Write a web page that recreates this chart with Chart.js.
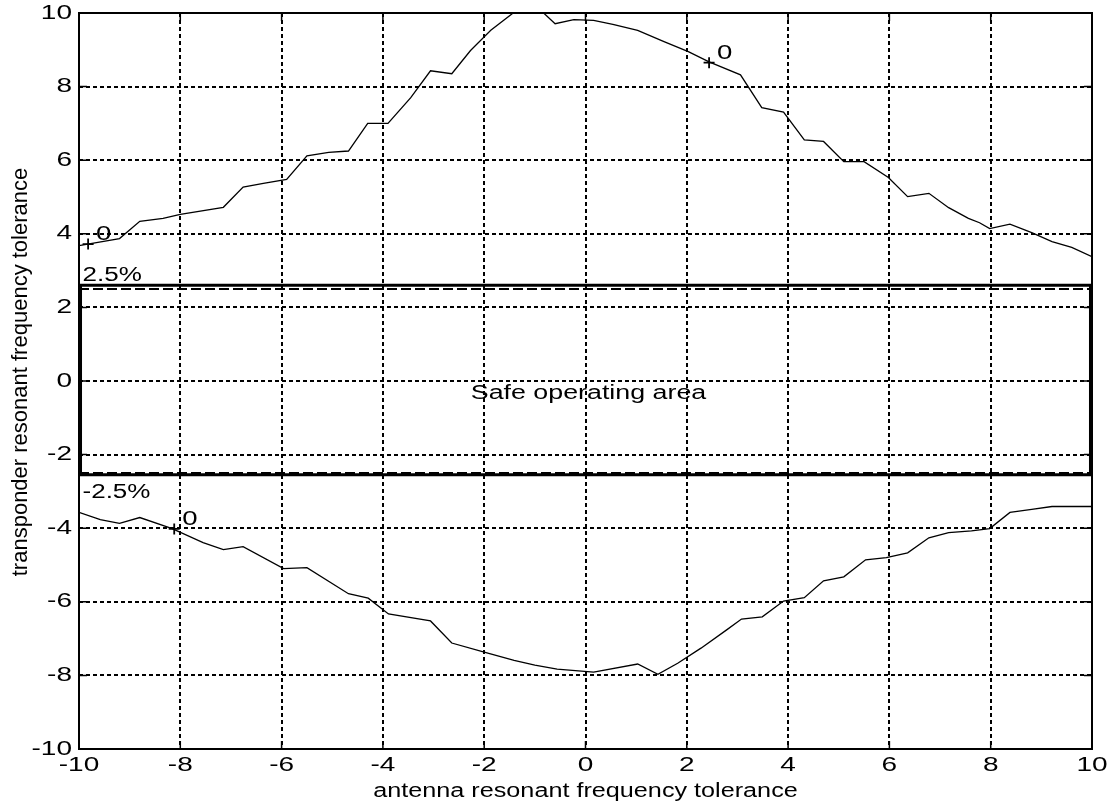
<!DOCTYPE html>
<html>
<head>
<meta charset="utf-8">
<title>Frequency tolerance</title>
<script src="https://cdn.jsdelivr.net/npm/chart.js@4/dist/chart.umd.min.js"></script>
<style>
  html, body { margin: 0; padding: 0; background: #ffffff; }
  canvas { display: block; }
</style>
</head>
<body>
<canvas id="chart" width="1113" height="809"></canvas>
<script>
// Axis ticks shared by both axes
const tickValues = [-10, -8, -6, -4, -2, 0, 2, 4, 6, 8, 10];

// Upper zero-contour
const upperX = [-10, -9.2, -8.8, -8.34, -8.0, -7.15, -6.76, -6.36, -5.9, -5.5, -5.07, -4.68, -4.3, -3.9, -3.45, -3.06,
  -2.64, -2.27, -1.87, -1.1, -0.6, -0.23, 0.16, 0.54, 1.03, 1.55, 2.03, 2.44, 3.06, 3.48, 3.91, 4.32, 4.7, 5.1, 5.5,
  5.98, 6.36, 6.78, 7.17, 7.56, 7.78, 7.98, 8.38, 8.81, 9.21, 9.6, 10.0];
const upperY = [3.68, 3.87, 4.34, 4.42, 4.53, 4.72, 5.27, 5.37, 5.48, 6.12, 6.21, 6.25, 7.0, 7.0, 7.7, 8.43,
  8.35, 8.98, 9.53, 10.35, 9.71, 9.82, 9.8, 9.69, 9.53, 9.22, 8.95, 8.67, 8.32, 7.43, 7.31, 6.55, 6.51, 5.96, 5.96,
  5.53, 5.01, 5.1, 4.71, 4.42, 4.3, 4.14, 4.26, 4.03, 3.79, 3.63, 3.38];

// Lower zero-contour
const lowerX = [-10, -9.58, -9.2, -8.8, -8.16, -7.55, -7.15, -6.76, -5.96, -5.5, -4.68, -4.29, -3.89, -3.06, -2.64,
  -2.0, -1.41, -1.0, -0.56, 0.16, 1.03, 1.43, 1.82, 2.28, 2.78, 3.08, 3.49, 3.91, 4.32, 4.7, 5.1, 5.53, 5.94, 6.36,
  6.78, 7.17, 7.62, 7.98, 8.38, 8.81, 9.21, 10.0];
const lowerY = [-3.57, -3.77, -3.87, -3.71, -4.01, -4.39, -4.58, -4.5, -5.1, -5.07, -5.78, -5.9, -6.33, -6.52, -7.12,
  -7.37, -7.59, -7.72, -7.83, -7.91, -7.69, -7.97, -7.67, -7.26, -6.77, -6.47, -6.41, -5.98, -5.89, -5.43, -5.32, -4.86,
  -4.8, -4.67, -4.26, -4.12, -4.07, -4.01, -3.57, -3.49, -3.41, -3.41];

// Contour label anchor crosses
const markerX = [-9.82, 2.44, -8.12];
const markerY = [3.72, 8.65, -4.02];
const markerText = ['0', '0', '0'];

// Tolerance limits (percent) and the safe operating box
const limitValues = [2.5, -2.5];
const limitText = ['2.5%', '-2.5%'];
const boxX = [-9.97, 9.97];
const boxY = [2.6, -2.55];

const xTitle = 'antenna resonant frequency tolerance';
const yTitle = 'transponder resonant frequency tolerance';
const boxTitle = 'Safe operating area';

const FONT = '"Liberation Sans", Arial, Helvetica, sans-serif';

const zip = (xs, ys) => xs.map((v, i) => ({ x: v, y: ys[i] }));

// Text drawn with a horizontal stretch, the way the plot's lettering is set
function stretchText(ctx, str, x, y, size, sx, align, baseline, rot) {
  ctx.save();
  ctx.translate(x, y);
  if (rot) ctx.rotate(rot);
  ctx.scale(sx, 1);
  ctx.font = size + 'px ' + FONT;
  ctx.fillStyle = '#000';
  ctx.textAlign = align;
  ctx.textBaseline = baseline;
  ctx.fillText(str, 0, 0);
  ctx.restore();
}

const frameAndText = {
  id: 'frameAndText',
  afterDraw(chart) {
    const { ctx, chartArea: a, scales: { x, y } } = chart;
    ctx.save();
    ctx.strokeStyle = '#000';
    ctx.lineWidth = 2;
    ctx.strokeRect(a.left, a.top, a.right - a.left, a.bottom - a.top);

    // inward tick marks on all four sides
    ctx.lineWidth = 1.5;
    ctx.beginPath();
    x.ticks.forEach(t => {
      const px = x.getPixelForValue(t.value);
      ctx.moveTo(px, a.bottom); ctx.lineTo(px, a.bottom - 8);
      ctx.moveTo(px, a.top); ctx.lineTo(px, a.top + 8);
    });
    y.ticks.forEach(t => {
      const py = y.getPixelForValue(t.value);
      ctx.moveTo(a.left, py); ctx.lineTo(a.left + 8, py);
      ctx.moveTo(a.right, py); ctx.lineTo(a.right - 8, py);
    });
    ctx.stroke();

    // tick labels
    x.ticks.forEach(t => {
      stretchText(ctx, String(t.value), x.getPixelForValue(t.value), a.bottom + 16, 20, 1.4, 'center', 'middle');
    });
    y.ticks.forEach(t => {
      stretchText(ctx, String(t.value), a.left - 7, y.getPixelForValue(t.value), 20, 1.4, 'right', 'middle');
    });

    // axis titles
    stretchText(ctx, xTitle, (a.left + a.right) / 2, a.bottom + 42, 20, 1.26, 'center', 'middle');
    stretchText(ctx, yTitle, 21, (a.top + a.bottom) / 2 - 9, 22, 1, 'center', 'middle', -Math.PI / 2);

    // limit labels sit just above / below the box edges, at its left side
    stretchText(ctx, limitText[0], x.getPixelForValue(boxX[0]) + 2, y.getPixelForValue(boxY[0]) - 4, 20, 1.3, 'left', 'alphabetic');
    stretchText(ctx, limitText[1], x.getPixelForValue(boxX[0]) + 2, y.getPixelForValue(boxY[1]) + 23, 20, 1.3, 'left', 'alphabetic');

    // contour level labels beside their crosses
    markerText.forEach((s, i) => {
      stretchText(ctx, s, x.getPixelForValue(markerX[i]) + 8, y.getPixelForValue(markerY[i]) - 4, 20, 1.38, 'left', 'alphabetic');
    });

    // box caption
    stretchText(ctx, boxTitle, x.getPixelForValue(0) + 3, y.getPixelForValue(0) + 12, 20, 1.34, 'center', 'middle');
    ctx.restore();
  }
};

const line = (data, extra) => Object.assign({
  data, showLine: true, pointRadius: 0, borderColor: '#000', backgroundColor: '#000',
  borderWidth: 1.3, tension: 0, fill: false
}, extra || {});

const limitLine = v => [{ x: -10, y: v }, { x: 10, y: v }];

const boxData = [
  { x: boxX[0], y: boxY[0] }, { x: boxX[1], y: boxY[0] }, { x: boxX[1], y: boxY[1] },
  { x: boxX[0], y: boxY[1] }, { x: boxX[0], y: boxY[0] }
];

const gridScale = () => ({
  type: 'linear', min: -10, max: 10,
  afterBuildTicks: s => { s.ticks = tickValues.map(v => ({ value: v })); },
  ticks: { display: false },
  grid: { color: '#000', lineWidth: 2, drawTicks: false },
  border: { display: false, dash: [4, 3] },
  title: { display: false }
});

const xScale = gridScale();
xScale.afterFit = s => { s.height = 60; };
const yScale = gridScale();
yScale.afterFit = s => { s.width = 79; };

new Chart(document.getElementById('chart'), {
  type: 'scatter',
  data: {
    datasets: [
      line(zip(upperX, upperY)),
      line(zip(lowerX, lowerY)),
      line(limitLine(limitValues[0]), { borderWidth: 2, borderDash: [10, 4] }),
      line(limitLine(limitValues[1]), { borderWidth: 2, borderDash: [10, 4] }),
      line(boxData, { borderWidth: 3, borderCapStyle: 'square', borderJoinStyle: 'miter', clip: false }),
      {
        data: zip(markerX, markerY), showLine: false, pointStyle: 'cross', pointRadius: 5.5,
        borderColor: '#000', borderWidth: 1.8
      }
    ]
  },
  options: {
    responsive: false,
    animation: false,
    events: [],
    layout: { padding: { top: 13, right: 21, left: 0, bottom: 0 } },
    plugins: { legend: { display: false }, tooltip: { enabled: false } },
    scales: { x: xScale, y: yScale }
  },
  plugins: [frameAndText]
});
</script>
</body>
</html>
